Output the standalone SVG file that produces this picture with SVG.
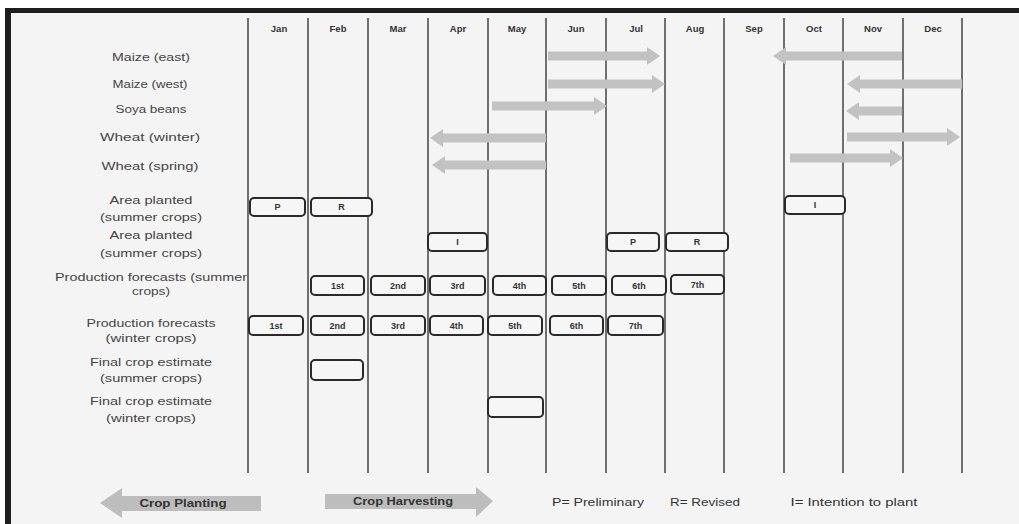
<svg xmlns="http://www.w3.org/2000/svg" width="1019" height="524" viewBox="0 0 1019 524">
<style>
.lbl{font-family:"Liberation Sans",Arial,sans-serif;font-size:10.5px;fill:#444;text-anchor:middle}
.mon{font-family:"Liberation Sans",Arial,sans-serif;font-size:9.5px;font-weight:bold;fill:#333;text-anchor:middle}
.bt{font-family:"Liberation Sans",Arial,sans-serif;font-size:9px;font-weight:bold;fill:#333;text-anchor:middle}
.lg{font-family:"Liberation Sans",Arial,sans-serif;font-size:10.5px;fill:#333;text-anchor:middle}
.lgb{font-family:"Liberation Sans",Arial,sans-serif;font-size:10.5px;font-weight:bold;fill:#333;text-anchor:middle}
.grid{stroke:#707070;stroke-width:2}
.box{fill:#f6f6f6;stroke:#2a2a2a;stroke-width:2}
.arr{stroke:#c2c2c2;stroke-width:9;fill:none;marker-end:url(#ah)}
.big{fill:#bdbdbd}
</style>
<defs>
<marker id="ah" markerUnits="userSpaceOnUse" markerWidth="13" markerHeight="18" refX="0" refY="9" orient="auto" viewBox="0 0 13 18">
<path d="M0,0 L13,9 L0,18 z" fill="#c2c2c2"/>
</marker>
</defs>
<rect x="0" y="0" width="1019" height="524" fill="#ffffff"/>
<rect x="5" y="8" width="1014" height="516" fill="#f4f4f4"/>
<rect x="5" y="8" width="1014" height="5" fill="#1e1e1e"/>
<rect x="5" y="8" width="6" height="516" fill="#1e1e1e"/>

<g id="grid">
<line class="grid" x1="248" y1="18" x2="248" y2="473"/>
<line class="grid" x1="308" y1="18" x2="308" y2="473"/>
<line class="grid" x1="368" y1="18" x2="368" y2="473"/>
<line class="grid" x1="428" y1="18" x2="428" y2="473"/>
<line class="grid" x1="488" y1="18" x2="488" y2="473"/>
<line class="grid" x1="546" y1="18" x2="546" y2="473"/>
<line class="grid" x1="606" y1="18" x2="606" y2="473"/>
<line class="grid" x1="665" y1="18" x2="665" y2="473"/>
<line class="grid" x1="724" y1="18" x2="724" y2="473"/>
<line class="grid" x1="784" y1="18" x2="784" y2="473"/>
<line class="grid" x1="843" y1="18" x2="843" y2="473"/>
<line class="grid" x1="903" y1="18" x2="903" y2="473"/>
<line class="grid" x1="962" y1="18" x2="962" y2="473"/>
</g>

<g id="months">
<text class="mon" x="279" y="32">Jan</text>
<text class="mon" x="338" y="32">Feb</text>
<text class="mon" x="398" y="32">Mar</text>
<text class="mon" x="458" y="32">Apr</text>
<text class="mon" x="517" y="32">May</text>
<text class="mon" x="576" y="32">Jun</text>
<text class="mon" x="636" y="32">Jul</text>
<text class="mon" x="695" y="32">Aug</text>
<text class="mon" x="754" y="32">Sep</text>
<text class="mon" x="814" y="32">Oct</text>
<text class="mon" x="873" y="32">Nov</text>
<text class="mon" x="933" y="32">Dec</text>
</g>

<g id="row-labels">
<text class="lbl" x="151" y="61" textLength="78" lengthAdjust="spacingAndGlyphs">Maize (east)</text>
<text class="lbl" x="150" y="88" textLength="75" lengthAdjust="spacingAndGlyphs">Maize (west)</text>
<text class="lbl" x="151" y="113" textLength="71" lengthAdjust="spacingAndGlyphs">Soya beans</text>
<text class="lbl" x="150" y="141" textLength="100" lengthAdjust="spacingAndGlyphs">Wheat (winter)</text>
<text class="lbl" x="150" y="170" textLength="97" lengthAdjust="spacingAndGlyphs">Wheat (spring)</text>
<text class="lbl" x="151" y="204" textLength="83" lengthAdjust="spacingAndGlyphs">Area planted</text>
<text class="lbl" x="151" y="221" textLength="102" lengthAdjust="spacingAndGlyphs">(summer crops)</text>
<text class="lbl" x="151" y="239" textLength="83" lengthAdjust="spacingAndGlyphs">Area planted</text>
<text class="lbl" x="151" y="257" textLength="102" lengthAdjust="spacingAndGlyphs">(summer crops)</text>
<text class="lbl" x="151" y="281" textLength="192" lengthAdjust="spacingAndGlyphs">Production forecasts (summer</text>
<text class="lbl" x="151" y="295" textLength="38" lengthAdjust="spacingAndGlyphs">crops)</text>
<text class="lbl" x="151" y="327" textLength="129" lengthAdjust="spacingAndGlyphs">Production forecasts</text>
<text class="lbl" x="151" y="342" textLength="91" lengthAdjust="spacingAndGlyphs">(winter crops)</text>
<text class="lbl" x="151" y="366" textLength="122" lengthAdjust="spacingAndGlyphs">Final crop estimate</text>
<text class="lbl" x="151" y="382" textLength="102" lengthAdjust="spacingAndGlyphs">(summer crops)</text>
<text class="lbl" x="151" y="405" textLength="122" lengthAdjust="spacingAndGlyphs">Final crop estimate</text>
<text class="lbl" x="151" y="422" textLength="90" lengthAdjust="spacingAndGlyphs">(winter crops)</text>
</g>

<g id="connectors">
<line class="arr" x1="548" y1="56" x2="647" y2="56"/>
<line class="arr" x1="902" y1="56" x2="786" y2="56"/>
<line class="arr" x1="548" y1="84" x2="652" y2="84"/>
<line class="arr" x1="962" y1="84" x2="860" y2="84"/>
<line class="arr" x1="492" y1="106" x2="594" y2="106"/>
<line class="arr" x1="902" y1="111" x2="859" y2="111"/>
<line class="arr" x1="546" y1="138" x2="443" y2="138"/>
<line class="arr" x1="847" y1="137" x2="947" y2="137"/>
<line class="arr" x1="546" y1="165" x2="445" y2="165"/>
<line class="arr" x1="790" y1="158" x2="890" y2="158"/>
</g>

<g id="area-planted-1">
<g id="ap1-p"><rect class="box" x="250" y="198" width="55" height="18" rx="4"/><text class="bt" x="277.5" y="210">P</text></g>
<g id="ap1-r"><rect class="box" x="311" y="198" width="61" height="18" rx="4"/><text class="bt" x="341.5" y="210">R</text></g>
<g id="ap1-i"><rect class="box" x="785" y="196" width="60" height="18" rx="4"/><text class="bt" x="815" y="208">I</text></g>
</g>
<g id="area-planted-2">
<g id="ap2-i"><rect class="box" x="428" y="233" width="59" height="18" rx="4"/><text class="bt" x="457.5" y="245">I</text></g>
<g id="ap2-p"><rect class="box" x="607" y="233" width="52" height="18" rx="4"/><text class="bt" x="633" y="245">P</text></g>
<g id="ap2-r"><rect class="box" x="666" y="233" width="62" height="18" rx="4"/><text class="bt" x="697" y="245">R</text></g>
</g>
<g id="prod-summer">
<g id="ps-1"><rect class="box" x="311" y="276" width="53" height="19" rx="4"/><text class="bt" x="337.5" y="288.5">1st</text></g>
<g id="ps-2"><rect class="box" x="371" y="276" width="54" height="19" rx="4"/><text class="bt" x="398" y="288.5">2nd</text></g>
<g id="ps-3"><rect class="box" x="430" y="276" width="55" height="19" rx="4"/><text class="bt" x="457.5" y="288.5">3rd</text></g>
<g id="ps-4"><rect class="box" x="493" y="276" width="53" height="19" rx="4"/><text class="bt" x="519.5" y="288.5">4th</text></g>
<g id="ps-5"><rect class="box" x="552" y="276" width="54" height="19" rx="4"/><text class="bt" x="579" y="288.5">5th</text></g>
<g id="ps-6"><rect class="box" x="612" y="276" width="54" height="19" rx="4"/><text class="bt" x="639" y="288.5">6th</text></g>
<g id="ps-7"><rect class="box" x="671" y="275" width="53" height="19" rx="4"/><text class="bt" x="697.5" y="287.5">7th</text></g>
</g>
<g id="prod-winter">
<g id="pw-1"><rect class="box" x="249" y="316" width="54" height="19" rx="4"/><text class="bt" x="276" y="328.5">1st</text></g>
<g id="pw-2"><rect class="box" x="311" y="316" width="53" height="19" rx="4"/><text class="bt" x="337.5" y="328.5">2nd</text></g>
<g id="pw-3"><rect class="box" x="371" y="316" width="54" height="19" rx="4"/><text class="bt" x="398" y="328.5">3rd</text></g>
<g id="pw-4"><rect class="box" x="430" y="316" width="53" height="19" rx="4"/><text class="bt" x="456.5" y="328.5">4th</text></g>
<g id="pw-5"><rect class="box" x="488" y="316" width="54" height="19" rx="4"/><text class="bt" x="515" y="328.5">5th</text></g>
<g id="pw-6"><rect class="box" x="550" y="316" width="53" height="19" rx="4"/><text class="bt" x="576.5" y="328.5">6th</text></g>
<g id="pw-7"><rect class="box" x="608" y="316" width="55" height="19" rx="4"/><text class="bt" x="635.5" y="328.5">7th</text></g>
</g>
<g id="final-summer"><rect class="box" x="311" y="360" width="52" height="20" rx="4"/></g>
<g id="final-winter"><rect class="box" x="488" y="397" width="55" height="20" rx="4"/></g>

<g id="legend">
<g id="legend-planting">
<polygon class="big" points="100,503 122,488 122,496 261,496 261,511 122,511 122,518"/>
<text class="lgb" x="183" y="507" textLength="87" lengthAdjust="spacingAndGlyphs">Crop Planting</text>
</g>
<g id="legend-harvesting">
<polygon class="big" points="325,494 476,494 476,487 493,501 476,517 476,509 325,509"/>
<text class="lgb" x="403" y="505" textLength="100" lengthAdjust="spacingAndGlyphs">Crop Harvesting</text>
</g>
<text class="lg" x="598" y="506" textLength="92" lengthAdjust="spacingAndGlyphs">P= Preliminary</text>
<text class="lg" x="705" y="506" textLength="70" lengthAdjust="spacingAndGlyphs">R= Revised</text>
<text class="lg" x="854" y="506" textLength="127" lengthAdjust="spacingAndGlyphs">I= Intention to plant</text>
</g>
</svg>
